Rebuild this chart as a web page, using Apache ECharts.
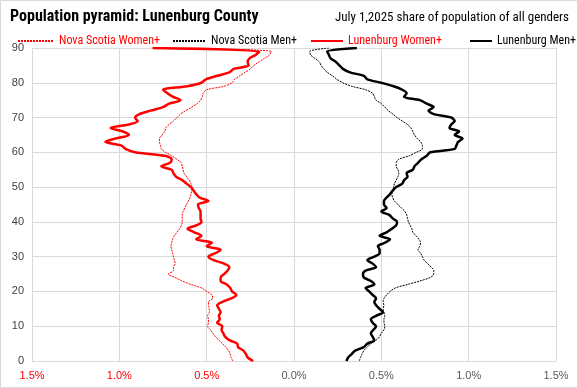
<!DOCTYPE html>
<html>
<head>
<meta charset="utf-8">
<script src="https://cdn.jsdelivr.net/npm/echarts@6/dist/echarts.min.js"></script>
<style>
html,body{margin:0;padding:0;background:#fff;}
#chart{width:578px;height:388px;}
</style>
</head>
<body>
<div id="chart"></div>
<script>
const ages = [0,1,2,3,4,5,6,7,8,9,10,11,12,13,14,15,16,17,18,19,20,21,22,23,24,25,26,27,28,29,30,31,32,33,34,35,36,37,38,39,40,41,42,43,44,45,46,47,48,49,50,51,52,53,54,55,56,57,58,59,60,61,62,63,64,65,66,67,68,69,70,71,72,73,74,75,76,77,78,79,80,81,82,83,84,85,86,87,88,89,90];

// share of population (%), women plotted to the left
const nsWomen = [0.35,0.36,0.365,0.375,0.39,0.41,0.43,0.45,0.465,0.48,
  0.495,0.49,0.49,0.495,0.485,0.485,0.49,0.49,0.465,0.47,
  0.50,0.53,0.59,0.64,0.68,0.72,0.69,0.69,0.68,0.685,
  0.69,0.695,0.70,0.705,0.70,0.695,0.685,0.67,0.655,0.645,
  0.64,0.64,0.64,0.635,0.625,0.615,0.605,0.595,0.59,0.585,
  0.585,0.59,0.60,0.615,0.63,0.635,0.64,0.645,0.67,0.70,
  0.735,0.76,0.765,0.77,0.77,0.755,0.74,0.735,0.715,0.69,
  0.67,0.65,0.62,0.585,0.555,0.535,0.525,0.52,0.50,0.40,
  0.355,0.34,0.31,0.28,0.25,0.23,0.20,0.17,0.14,0.13,
  0.70];
const nsMen = [0.375,0.38,0.39,0.40,0.42,0.44,0.47,0.49,0.50,0.515,
  0.52,0.515,0.515,0.52,0.515,0.51,0.515,0.51,0.515,0.53,
  0.55,0.58,0.65,0.72,0.78,0.80,0.80,0.785,0.765,0.745,
  0.735,0.725,0.71,0.72,0.725,0.715,0.70,0.68,0.675,0.665,
  0.655,0.65,0.645,0.635,0.615,0.595,0.575,0.565,0.56,0.565,
  0.57,0.575,0.585,0.595,0.60,0.595,0.585,0.585,0.60,0.66,
  0.70,0.735,0.735,0.725,0.705,0.69,0.68,0.67,0.65,0.62,
  0.59,0.565,0.54,0.52,0.50,0.47,0.46,0.45,0.41,0.33,
  0.28,0.245,0.22,0.19,0.17,0.155,0.145,0.12,0.095,0.09,
  0.20];
const lunWomen = [0.233,0.265,0.275,0.29,0.32,0.325,0.37,0.395,0.405,0.415,
  0.41,0.44,0.425,0.43,0.42,0.43,0.44,0.41,0.36,0.33,
  0.355,0.365,0.385,0.42,0.42,0.40,0.38,0.37,0.40,0.46,
  0.49,0.45,0.42,0.50,0.47,0.56,0.53,0.57,0.61,0.56,
  0.53,0.535,0.535,0.535,0.545,0.55,0.49,0.54,0.56,0.575,
  0.59,0.615,0.64,0.675,0.69,0.70,0.76,0.71,0.70,0.74,
  0.91,0.965,0.99,1.08,1.02,0.945,0.98,1.05,0.945,0.895,
  0.91,0.885,0.82,0.75,0.715,0.65,0.695,0.725,0.75,0.61,
  0.53,0.505,0.44,0.37,0.345,0.26,0.265,0.255,0.22,0.20,
  0.81];
const lunMen = [0.30,0.31,0.33,0.35,0.40,0.42,0.46,0.45,0.44,0.455,
  0.47,0.45,0.44,0.47,0.51,0.49,0.47,0.46,0.47,0.45,
  0.43,0.41,0.46,0.44,0.40,0.395,0.41,0.47,0.45,0.42,
  0.46,0.49,0.49,0.48,0.52,0.55,0.49,0.53,0.56,0.585,
  0.59,0.565,0.545,0.50,0.53,0.515,0.515,0.53,0.55,0.565,
  0.585,0.62,0.63,0.65,0.645,0.68,0.69,0.71,0.73,0.76,
  0.78,0.92,0.93,0.94,0.965,0.92,0.945,0.89,0.90,0.92,
  0.90,0.80,0.77,0.80,0.76,0.72,0.63,0.645,0.62,0.57,
  0.50,0.42,0.40,0.32,0.28,0.26,0.24,0.21,0.20,0.19,
  0.36];
const xTicks = [-1.5,-1.0,-0.5,0,0.5,1.0,1.5];

const RED = '#ff0000';
const FONT = "'Liberation Sans Narrow','Roboto Condensed','Liberation Sans',sans-serif";
const AXFONT = "'Liberation Sans',Arial,sans-serif";

function pairs(vals, sign){ return vals.map((v,i)=>[sign*v, ages[i]]); }

const chart = echarts.init(document.getElementById('chart'), null, {renderer:'canvas'});
const legendBase = {top:30, itemHeight:12, itemStyle:{opacity:0, borderWidth:0}};
const option = {
  animation:false,
  backgroundColor:'#fff',
  textStyle:{fontFamily:FONT},
  graphic:[{type:'rect', shape:{x:0.5,y:0.5,width:577,height:387}, style:{fill:'none', stroke:'#d9d9d9', lineWidth:1}, silent:true}],
  title:[
    {text:'Population pyramid: Lunenburg County', left:5, top:4,
     textStyle:{fontFamily:FONT, fontSize:16, fontWeight:'bold', color:'#000'}},
    {text:'July 1,2025 share of population of all genders', right:4, top:6,
     textStyle:{fontFamily:FONT, fontSize:13, fontWeight:'normal', color:'#000'}}
  ],
  legend:[
    Object.assign({left:12, itemWidth:36, textStyle:{fontFamily:FONT,fontSize:12,color:RED}, data:['Nova Scotia Women+']}, legendBase),
    Object.assign({left:167, itemWidth:33, textStyle:{fontFamily:FONT,fontSize:12,color:'#000'}, data:['Nova Scotia Men+']}, legendBase),
    Object.assign({left:305, itemWidth:32, textStyle:{fontFamily:FONT,fontSize:12,color:RED}, data:['Lunenburg Women+']}, legendBase),
    Object.assign({left:464, itemWidth:22, textStyle:{fontFamily:FONT,fontSize:12,color:'#000'}, data:['Lunenburg Men+']}, legendBase)
  ],
  grid:{left:32, right:22, top:48, bottom:27, containLabel:false},
  xAxis:{type:'value', min:-1.5, max:1.5, interval:0.5,
    axisLine:{show:false}, axisTick:{show:false},
    splitLine:{show:true, lineStyle:{color:'#d9d9d9', width:1}},
    axisLabel:{margin:9, fontFamily:AXFONT, fontSize:11,
      color:(v)=> (v<0 ? RED : '#595959'),
      formatter:(v)=> Math.abs(v).toFixed(1)+'%'}
  },
  yAxis:{type:'value', min:0, max:90, interval:10,
    axisLine:{show:false, onZero:false}, axisTick:{show:false},
    splitLine:{show:true, lineStyle:{color:'#d9d9d9', width:1}},
    axisLabel:{margin:8, fontFamily:AXFONT, fontSize:11, color:'#404040'}
  },
  series:[
    {name:'Nova Scotia Women+', type:'line', symbol:'none', smooth:0.3, z:2,
     data:pairs(nsWomen,-1), lineStyle:{color:RED, width:1, type:[2,1]}, itemStyle:{color:RED}},
    {name:'Nova Scotia Men+', type:'line', symbol:'none', smooth:0.3, z:2,
     data:pairs(nsMen,1), lineStyle:{color:'#000', width:1, type:[2,1]}, itemStyle:{color:'#000'}},
    {name:'Lunenburg Women+', type:'line', symbol:'none', smooth:0.3, z:3,
     data:pairs(lunWomen,-1), lineStyle:{color:RED, width:2.5}, itemStyle:{color:RED}},
    {name:'Lunenburg Men+', type:'line', symbol:'none', smooth:0.3, z:3,
     data:pairs(lunMen,1), lineStyle:{color:'#000', width:2.5}, itemStyle:{color:'#000'}}
  ]
};
chart.setOption(option);
</script>
</body>
</html>
